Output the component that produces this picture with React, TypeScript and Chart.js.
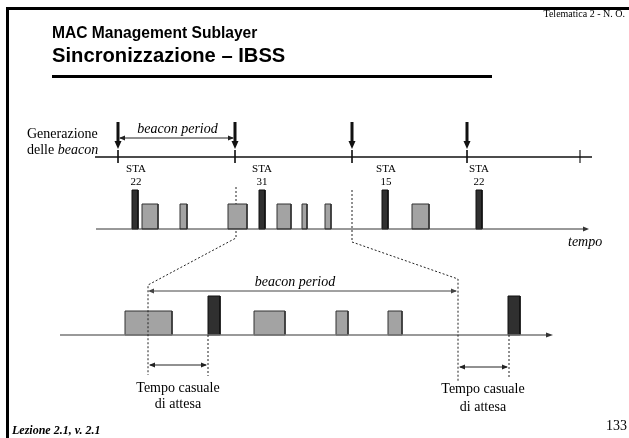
import { useEffect, useRef } from "react";
import { Chart, registerables } from "chart.js";

Chart.register(...registerables);

// ---- Data (time positions along the diagram's time axis) ----
const beaconInstants = [118, 235, 352, 467, 580];
const beaconArrows = [118, 235, 352, 467];
const staNames = ["22", "31", "15", "22"];
const staCenters = [136, 262, 386, 479];
const topBeaconFrames = [[132, 138], [259, 265], [382, 388], [476, 482]];
const topDataFrames = [[142, 158], [180, 187], [228, 247], [277, 291], [302, 307], [325, 331], [412, 429]];
const zoomBeaconFrames = [[208, 220], [508, 520]];
const zoomDataFrames = [[125, 172], [254, 285], [336, 348], [388, 402]];
const zoomWindow = [236, 352];
const zoomPeriod = [148, 458];
const randomWaits = [[148, 208], [458, 509]];

// ---- Levels (y) ----
const L = {
  beaconLine: 157,
  topBase: 229,
  topBeaconTop: 190,
  topDataTop: 204,
  zoomBase: 335,
  zoomBeaconTop: 296,
  zoomDataTop: 311,
  periodTop: 138,
  periodZoom: 291,
};

const GRAY = "#a3a3a3";
const DARK = "#303030";

type P = { x: number; y: number };

function rectDs(x0: number, x1: number, base: number, top: number, fill: string, stroke: string) {
  return {
    data: [
      { x: x0, y: base },
      { x: x0, y: top },
      { x: x1, y: top },
      { x: x1, y: base },
      { x: x0, y: base },
    ],
    showLine: true,
    fill: "shape",
    backgroundColor: fill,
    borderColor: stroke,
    borderWidth: 1,
    pointRadius: 0,
    tension: 0,
    borderJoinStyle: "miter" as const,
    clip: false as const,
  };
}

function lineDs(points: P[], color: string, width: number, dash: number[] = []) {
  return {
    data: points,
    showLine: true,
    fill: false,
    borderColor: color,
    backgroundColor: color,
    borderWidth: width,
    borderDash: dash,
    pointRadius: 0,
    tension: 0,
    clip: false as const,
  };
}

export default function App() {
  const ref = useRef<HTMLCanvasElement | null>(null);

  useEffect(() => {
    if (!ref.current) return;
    const datasets: any[] = [];

    // top beacon timeline
    datasets.push(lineDs([{ x: 95, y: L.beaconLine }, { x: 592, y: L.beaconLine }], "#111", 1.5));
    beaconInstants.forEach((b, i) =>
      datasets.push(
        lineDs(
          [{ x: b, y: 150 }, { x: b, y: 163 }],
          i === beaconInstants.length - 1 ? "#777" : "#222",
          i === beaconInstants.length - 1 ? 2 : 1
        )
      )
    );
    // down arrows shafts
    beaconArrows.forEach((b) => datasets.push(lineDs([{ x: b, y: 122 }, { x: b, y: 142 }], "#111", 3)));
    // beacon period arrow (top)
    datasets.push(lineDs([{ x: beaconInstants[0] + 2, y: L.periodTop }, { x: beaconInstants[1] - 2, y: L.periodTop }], "#222", 1));

    // top transmission timeline
    datasets.push(lineDs([{ x: 96, y: L.topBase }, { x: 584, y: L.topBase }], "#333", 1));
    topDataFrames.forEach(([a, b]) => datasets.push(rectDs(a, b, L.topBase, L.topDataTop, GRAY, "#333")));
    topBeaconFrames.forEach(([a, b]) => datasets.push(rectDs(a, b, L.topBase, L.topBeaconTop, DARK, "#111")));

    // dotted zoom lines
    datasets.push(
      lineDs(
        [
          { x: zoomWindow[0], y: 187 },
          { x: zoomWindow[0], y: 238 },
          { x: zoomPeriod[0], y: 285 },
          { x: zoomPeriod[0], y: 375 },
        ],
        "#222",
        1,
        [2, 2]
      )
    );
    datasets.push(
      lineDs(
        [
          { x: zoomWindow[1], y: 190 },
          { x: zoomWindow[1], y: 242 },
          { x: zoomPeriod[1], y: 279 },
          { x: zoomPeriod[1], y: 381 },
        ],
        "#222",
        1,
        [2, 2]
      )
    );
    datasets.push(lineDs([{ x: randomWaits[0][1], y: L.zoomBase }, { x: randomWaits[0][1], y: 376 }], "#222", 1, [2, 2]));
    datasets.push(lineDs([{ x: randomWaits[1][1], y: L.zoomBase }, { x: randomWaits[1][1], y: 377 }], "#222", 1, [2, 2]));

    // zoomed timeline
    datasets.push(lineDs([{ x: 60, y: L.zoomBase }, { x: 547, y: L.zoomBase }], "#777", 1.5));
    zoomDataFrames.forEach(([a, b]) => datasets.push(rectDs(a, b, L.zoomBase, L.zoomDataTop, GRAY, "#333")));
    zoomBeaconFrames.forEach(([a, b]) => datasets.push(rectDs(a, b, L.zoomBase, L.zoomBeaconTop, DARK, "#111")));
    // beacon period (zoom)
    datasets.push(lineDs([{ x: zoomPeriod[0] + 2, y: L.periodZoom }, { x: zoomPeriod[1] - 2, y: L.periodZoom }], "#444", 1));
    // random wait arrows
    const waitY = [365, 367];
    randomWaits.forEach(([a, b], i) =>
      datasets.push(lineDs([{ x: a + 2, y: waitY[i] }, { x: b - 2, y: waitY[i] }], "#222", 1))
    );

    const overlay = {
      id: "overlay",
      afterDatasetsDraw(chart: any) {
        const ctx: CanvasRenderingContext2D = chart.ctx;
        const px = (v: number) => chart.scales.x.getPixelForValue(v);
        const py = (v: number) => chart.scales.y.getPixelForValue(v);
        const head = (x: number, y: number, dx: number, dy: number, len: number, w: number, color: string) => {
          const tx = px(x), ty = py(y);
          ctx.save();
          ctx.fillStyle = color;
          ctx.beginPath();
          ctx.moveTo(tx, ty);
          ctx.lineTo(tx - dx * len - dy * w, ty - dy * len + dx * w);
          ctx.lineTo(tx - dx * len + dy * w, ty - dy * len - dx * w);
          ctx.closePath();
          ctx.fill();
          ctx.restore();
        };
        const text = (
          s: string,
          x: number,
          y: number,
          font: string,
          align: CanvasTextAlign = "left",
          color = "#000"
        ) => {
          ctx.save();
          ctx.font = font;
          ctx.fillStyle = color;
          ctx.textAlign = align;
          ctx.textBaseline = "alphabetic";
          ctx.fillText(s, px(x), py(y));
          ctx.restore();
        };

        // frame
        ctx.save();
        ctx.strokeStyle = "#000";
        ctx.lineWidth = 3;
        ctx.beginPath();
        ctx.moveTo(px(7.5), py(438));
        ctx.lineTo(px(7.5), py(8.5));
        ctx.lineTo(px(629), py(8.5));
        ctx.stroke();
        // title underline
        ctx.lineWidth = 3;
        ctx.beginPath();
        ctx.moveTo(px(52), py(76.5));
        ctx.lineTo(px(492), py(76.5));
        ctx.stroke();
        ctx.restore();

        const SERIF = '"Liberation Serif", "DejaVu Serif", serif';
        const SANS = '"Liberation Sans", Arial, sans-serif';

        text("Telematica 2 - N. O.", 625, 17, `10px ${SERIF}`, "right");
        text("MAC Management Sublayer", 52, 38, `bold 15.6px ${SANS}`);
        text("Sincronizzazione – IBSS", 52, 62, `bold 20.2px ${SANS}`);

        // left labels
        text("Generazione", 27, 138, `14px ${SERIF}`);
        ctx.save();
        ctx.font = `14px ${SERIF}`;
        const w1 = ctx.measureText("delle ").width;
        ctx.restore();
        text("delle ", 27, 154, `14px ${SERIF}`);
        ctx.save();
        ctx.font = `italic 14px ${SERIF}`;
        ctx.fillStyle = "#000";
        ctx.fillText("beacon", px(27) + w1, py(154));
        ctx.restore();

        // arrows heads
        beaconArrows.forEach((b) => head(b, 149, 0, 1, 8, 3.5, "#111"));
        head(beaconInstants[0] + 1, L.periodTop, -1, 0, 6, 2.5, "#222");
        head(beaconInstants[1] - 1, L.periodTop, 1, 0, 6, 2.5, "#222");
        text("beacon period", (beaconInstants[0] + beaconInstants[1]) / 2 + 1, 133, `italic 14px ${SERIF}`, "center");

        // STA labels
        staCenters.forEach((c, i) => {
          text("STA", c, 172, `11px ${SERIF}`, "center");
          text(staNames[i], c, 185, `11px ${SERIF}`, "center");
        });

        head(589, L.topBase, 1, 0, 6, 2.5, "#333");
        text("tempo", 568, 246, `italic 14px ${SERIF}`);

        // zoom
        head(553, L.zoomBase, 1, 0, 7, 2.5, "#333");
        head(zoomPeriod[0], L.periodZoom, -1, 0, 6, 2.5, "#444");
        head(zoomPeriod[1] - 1, L.periodZoom, 1, 0, 6, 2.5, "#444");
        text("beacon period", 295, 286, `italic 14px ${SERIF}`, "center");

        randomWaits.forEach(([a, b], i) => {
          head(a + 1, waitY[i], -1, 0, 6, 2.5, "#222");
          head(b - 1, waitY[i], 1, 0, 6, 2.5, "#222");
        });
        text("Tempo casuale", 178, 392, `14px ${SERIF}`, "center");
        text("di attesa", 178, 408, `14px ${SERIF}`, "center");
        text("Tempo casuale", 483, 393, `14px ${SERIF}`, "center");
        text("di attesa", 483, 411, `14px ${SERIF}`, "center");

        text("Lezione 2.1, v. 2.1", 12, 434, `bold italic 12px ${SERIF}`);
        text("133", 606, 430, `14px ${SERIF}`);
      },
    };

    const chart = new Chart(ref.current, {
      type: "line",
      data: { datasets },
      options: {
        animation: false,
        responsive: false,
        events: [],
        layout: { padding: 0 },
        plugins: { legend: { display: false }, tooltip: { enabled: false } },
        scales: {
          x: { type: "linear", min: 0, max: 629, display: false },
          y: { type: "linear", min: 0, max: 438, reverse: true, display: false },
        },
      },
      plugins: [overlay],
    } as any);
    return () => chart.destroy();
  }, []);

  return (
    <div style={{ position: "absolute", left: 0, top: 0, width: 629, height: 438, background: "#fff" }}>
      <canvas ref={ref} width={629} height={438} style={{ width: 629, height: 438, display: "block" }} />
    </div>
  );
}
